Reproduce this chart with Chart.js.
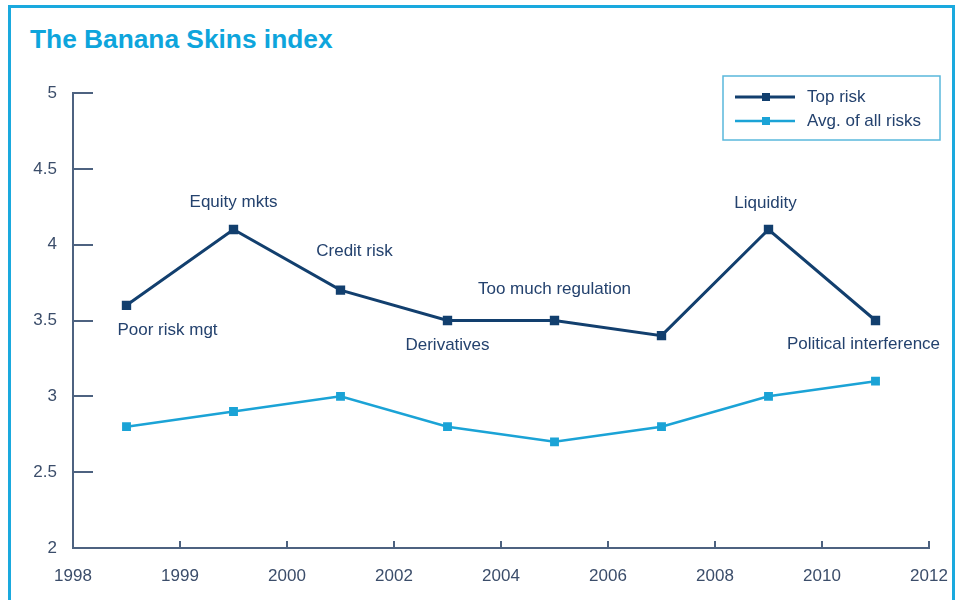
<!DOCTYPE html>
<html>
<head>
    <title>The Banana Skins index</title>
    <script src="https://cdn.jsdelivr.net/npm/chart.js"></script>
    <style>
        body {
            margin: 0;
            background: #ffffff;
            font-family: "Liberation Sans", Arial, sans-serif;
        }
        .frame {
            position: absolute;
            left: 8px;
            top: 5px;
            width: 941px;
            height: 620px;
            border: 3px solid #1aa9de;
            border-bottom: none;
        }
        h2 {
            position: absolute;
            left: 30px;
            top: 26px;
            margin: 0;
            font-size: 26.3px;
            line-height: 26px;
            font-weight: bold;
            color: #0ea5dc;
        }
        #chart {
            position: absolute;
            left: 0;
            top: 0;
        }
    </style>
</head>
<body>
    <div class="frame"></div>
    <h2>The Banana Skins index</h2>
    <canvas id="chart" width="963" height="600"></canvas>

    <script>
        // tick labels on the year axis (boundaries between the survey points)
        const yearTicks = ['1998', '1999', '2000', '2002', '2004', '2006', '2008', '2010', '2012'];
        // name of the top risk in each survey (blank = no label shown)
        const riskNames = ['Poor risk mgt', 'Equity mkts', 'Credit risk', 'Derivatives',
                           'Too much regulation', '', 'Liquidity', 'Political interference'];
        const topRisk = [3.6, 4.1, 3.7, 3.5, 3.5, 3.4, 4.1, 3.5];
        const avgRisk = [2.8, 2.9, 3.0, 2.8, 2.7, 2.8, 3.0, 3.1];

        const axisColor = '#4d6280';
        const labelColor = '#3b4d6a';
        const fontFamily = '"Liberation Sans", Arial, sans-serif';

        // points sit half way between the year ticks
        function toPoints(values) {
            return values.map((v, i) => ({ x: i + 0.5, y: v }));
        }

        // where each risk name sits relative to its point (px)
        const labelOffsets = [[41, 25], [0, -27], [14, -39], [0, 25], [0, -31], [0, 0], [-3, -26], [-12, 24]];

        const extras = {
            id: 'extras',
            afterDatasetsDraw(chart) {
                const ctx = chart.ctx;
                const xs = chart.scales.x, ys = chart.scales.y;
                ctx.save();
                ctx.font = '17px ' + fontFamily;
                ctx.fillStyle = '#24426e';
                ctx.textAlign = 'center';
                ctx.textBaseline = 'middle';
                riskNames.forEach((name, i) => {
                    if (!name) return;
                    const px = xs.getPixelForValue(i + 0.5);
                    const py = ys.getPixelForValue(topRisk[i]);
                    ctx.fillText(name, px + labelOffsets[i][0], py + labelOffsets[i][1]);
                });

                // legend box
                ctx.strokeStyle = '#5ab8dc';
                ctx.lineWidth = 1.5;
                ctx.strokeRect(723, 76, 217, 64);
                ctx.textAlign = 'left';
                chart.data.datasets.forEach((ds, i) => {
                    const y = 97 + i * 24;
                    ctx.strokeStyle = ds.borderColor;
                    ctx.lineWidth = ds.borderWidth;
                    ctx.beginPath();
                    ctx.moveTo(735, y);
                    ctx.lineTo(795, y);
                    ctx.stroke();
                    ctx.fillStyle = ds.borderColor;
                    ctx.fillRect(762, y - 4, 8, 8);
                    ctx.fillStyle = '#24426e';
                    ctx.fillText(ds.label, 807, y);
                });
                ctx.restore();
            }
        };

        new Chart(document.getElementById('chart'), {
            type: 'line',
            data: {
                datasets: [{
                    label: 'Top risk',
                    data: toPoints(topRisk),
                    borderColor: '#123f6e',
                    backgroundColor: '#123f6e',
                    borderWidth: 3,
                    pointStyle: 'rect',
                    pointRadius: 4.5,
                    tension: 0
                }, {
                    label: 'Avg. of all risks',
                    data: toPoints(avgRisk),
                    borderColor: '#1ba3d6',
                    backgroundColor: '#1ba3d6',
                    borderWidth: 2.5,
                    pointStyle: 'rect',
                    pointRadius: 4.5,
                    tension: 0
                }]
            },
            options: {
                responsive: false,
                animation: false,
                layout: { padding: { top: 93, right: 34, left: 0, bottom: 0 } },
                plugins: {
                    legend: { display: false },
                    tooltip: { enabled: false }
                },
                scales: {
                    x: {
                        type: 'linear',
                        min: 0,
                        max: 8,
                        afterFit: s => { s.height = 52; s.paddingRight = 0; },
                        afterBuildTicks: s => {
                            s.ticks = yearTicks.map((t, i) => ({ value: i }));
                        },
                        ticks: {
                            autoSkip: false,
                            maxRotation: 0,
                            padding: 25,
                            color: labelColor,
                            font: { family: fontFamily, size: 17 },
                            callback: v => yearTicks[v]
                        },
                        grid: {
                            drawOnChartArea: false,
                            tickLength: -7,
                            color: axisColor,
                            lineWidth: 2
                        },
                        border: { color: axisColor, width: 2 }
                    },
                    y: {
                        min: 2,
                        max: 5,
                        afterFit: s => { s.width = 73; },
                        ticks: {
                            stepSize: 0.5,
                            padding: 36,
                            color: labelColor,
                            font: { family: fontFamily, size: 17 },
                            callback: v => String(v)
                        },
                        grid: {
                            drawOnChartArea: false,
                            tickLength: -20,
                            color: axisColor,
                            lineWidth: 2
                        },
                        border: { color: axisColor, width: 2 }
                    }
                }
            },
            plugins: [extras]
        });
    </script>
</body>
</html>
